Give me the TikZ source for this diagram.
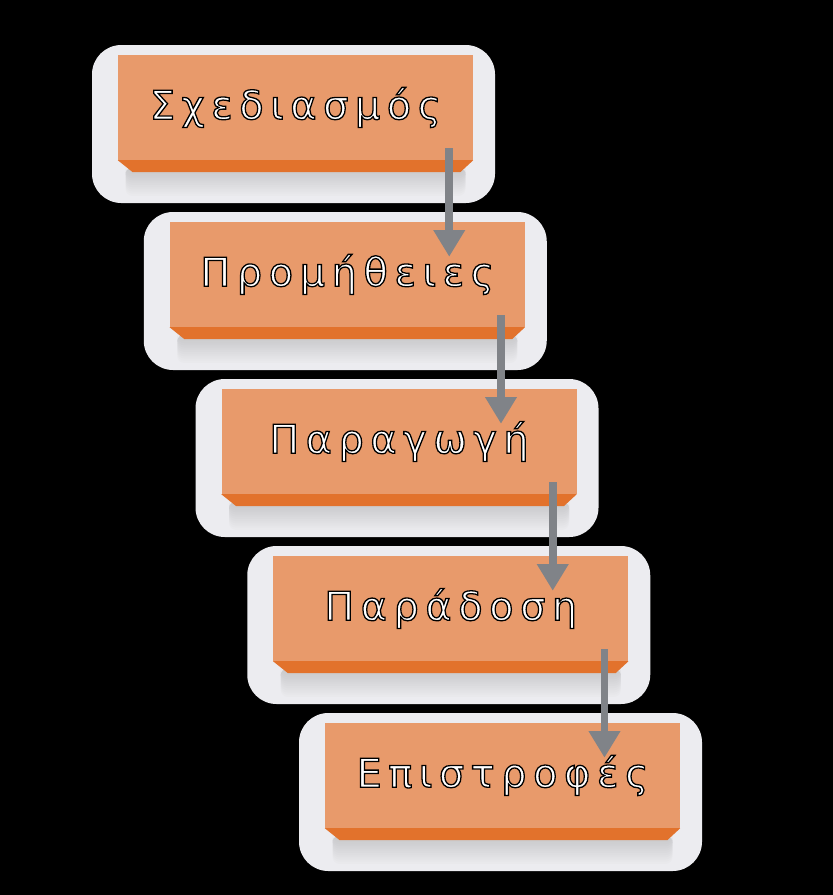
\documentclass[tikz,border=0pt]{standalone}
\usepackage{fontspec}
\setmainfont{DejaVu Sans}[LetterSpace=16.5]
\usetikzlibrary{arrows.meta,calc}

\definecolor{boxface}{HTML}{E89A6B}
\definecolor{boxedge}{HTML}{E2722C}
\definecolor{halo}{HTML}{ECECF0}
\definecolor{arrowgray}{HTML}{808388}

% white letters with a black outline
\newcommand\outltxt[1]{%
  \textcolor{white}{\special{pdf:literal direct 2 Tr 0 G 1.1 w}#1%
  \special{pdf:literal direct 0 Tr}}}

\tikzset{
  stage/.style={fill=boxface, minimum width=106.5mm, minimum height=31.5mm,
    inner sep=0pt, font=\fontsize{34}{38}\selectfont},
  flow/.style={draw=arrowgray, line width=2.3mm,
    -{Triangle[width=9mm,length=8mm]}},
}

\begin{document}
\begin{tikzpicture}[x=0.3mm,y=-0.3mm]
  % black background
  \fill[black] (0,0) rectangle (833,895);
  \useasboundingbox (0,0) rectangle (833,895);
  % stages
  \foreach \i/\txt in {1/Σχεδιασμός,2/Προμήθειες,3/Παραγωγή,4/Παράδοση,5/Επιστροφές}{
    \pgfmathsetmacro{\cx}{295.5+51.75*(\i-1)}
    \pgfmathsetmacro{\cy}{107.5+167*(\i-1)}
    % halo
    \fill[halo, rounded corners=25] (\cx-203.5,\cy-62.5) rectangle (\cx+199.5,\cy+95.5);
    % shadow below the box
    \foreach \k in {1,...,12}
      \fill[black!40, opacity=0.035, rounded corners=6] (\cx-170,\cy+60) rectangle (\cx+170,\cy+62+2.2*\k);
    \node[stage] (s\i) at (\cx,\cy) {\outltxt{\txt}};
    % bottom edge
    \fill[boxedge] (s\i.south west) -- (s\i.south east) -- ++(-13,12)
      -- ($(s\i.south west)+(15,12)$) -- cycle;
  }
  % arrows
  \foreach \i/\j in {1/2,2/3,3/4,4/5}{
    \coordinate (a\i) at ($(s\i.south east)+(-24,-12)$);
    \coordinate (b\j) at ($(s\j.north)+(0,35)$);
    \draw[flow] (a\i) -- (a\i |- b\j);
  }
\end{tikzpicture}
\end{document}
